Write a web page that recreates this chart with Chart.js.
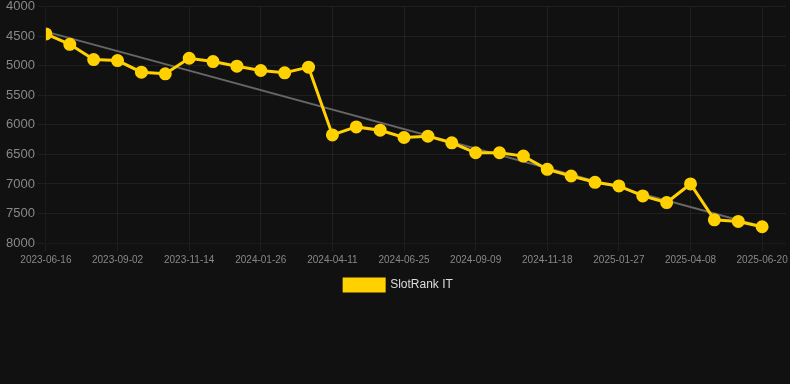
<!DOCTYPE html>
<html>
<head>
<meta charset="utf-8">
<script src="https://cdn.jsdelivr.net/npm/chart.js@4/dist/chart.umd.min.js"></script>
<style>
  html, body { margin: 0; padding: 0; background: #111111; overflow: hidden; }
  #wrap { position: relative; width: 794px; height: 305px; margin-top: -4px; }
</style>
</head>
<body>
<div id="wrap"><canvas id="chart"></canvas></div>
<script>
// dates under the x axis (only every third one is printed)
const DATES = [
  '2023-06-16', '2023-07-12', '2023-08-07', '2023-09-02', '2023-09-26', '2023-10-20',
  '2023-11-14', '2023-12-08', '2024-01-02', '2024-01-26', '2024-02-19', '2024-03-15',
  '2024-04-11', '2024-05-05', '2024-05-31', '2024-06-25', '2024-07-20', '2024-08-15',
  '2024-09-09', '2024-10-02', '2024-10-25', '2024-11-18', '2024-12-12', '2025-01-03',
  '2025-01-27', '2025-02-19', '2025-03-15', '2025-04-08', '2025-04-30', '2025-05-26',
  '2025-06-20',
];
const RANKS = [
  4460, 4635, 4893, 4910, 5107, 5135, 4871, 4927, 5006, 5079, 5118, 5022,
  6169, 6034, 6090, 6213, 6191, 6303, 6472, 6472, 6528, 6753, 6865, 6972,
  7034, 7202, 7315, 7000, 7607, 7635, 7725,
];
const TREND = [4420, 7720]; // trend at first and last date
const Y_TICKS = [4000, 4500, 5000, 5500, 6000, 6500, 7000, 7500, 8000];

const YELLOW = '#FFD100';
const GRID = 'rgba(255,255,255,0.06)';
const FONT = 'Liberation Sans, Arial, sans-serif';

const rankPoints = RANKS.map((v, i) => ({ x: i, y: v }));
const trendPoints = [{ x: 0, y: TREND[0] }, { x: DATES.length - 1, y: TREND[1] }];

new Chart(document.getElementById('chart'), {
  type: 'line',
  data: {
    datasets: [
      {
        label: 'SlotRank IT',
        data: rankPoints,
        borderColor: YELLOW,
        backgroundColor: YELLOW,
        borderWidth: 3,
        pointRadius: 5,
        pointBackgroundColor: YELLOW,
        pointBorderColor: YELLOW,
        tension: 0,
        order: 1,
      },
      {
        label: 'trend',
        data: trendPoints,
        borderColor: '#666666',
        borderWidth: 2,
        pointRadius: 0,
        fill: false,
        order: 2,
      },
    ],
  },
  options: {
    responsive: true,
    maintainAspectRatio: false,
    animation: false,
    layout: { padding: { left: 3 } },
    plugins: {
      legend: {
        display: true,
        position: 'bottom',
        labels: {
          filter: (item) => item.text !== 'trend',
          boxWidth: 40,
          boxHeight: 12,
          color: '#dddddd',
          font: { size: 12, family: FONT },
          padding: 10,
        },
      },
      tooltip: { enabled: false },
    },
    scales: {
      x: {
        type: 'linear',
        min: 0,
        max: DATES.length,
        afterBuildTicks: (axis) => {
          axis.ticks = DATES.map((_, i) => ({ value: i })).filter((t) => t.value % 3 === 0);
        },
        grid: { color: GRID },
        ticks: {
          autoSkip: false,
          maxRotation: 0,
          color: '#888888',
          font: { size: 10, family: FONT },
          callback: (v) => DATES[v],
        },
      },
      y: {
        reverse: true,
        min: Y_TICKS[0],
        max: Y_TICKS[Y_TICKS.length - 1],
        grid: { color: GRID },
        ticks: {
          stepSize: 500,
          color: '#888888',
          font: { size: 13, family: FONT },
          callback: (v) => String(v),
        },
      },
    },
  },
});
</script>
</body>
</html>
